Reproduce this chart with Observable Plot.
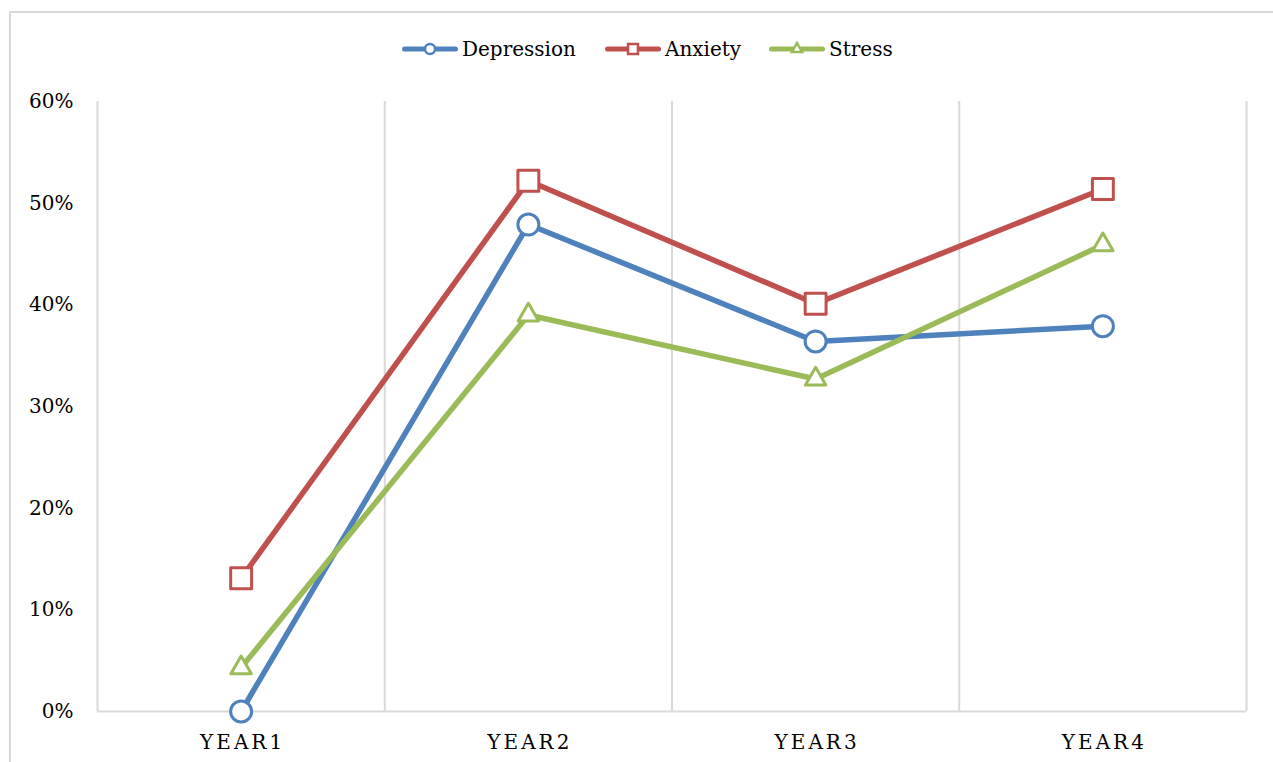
<!DOCTYPE html>
<html>
<head>
<meta charset="utf-8">
<script src="https://cdn.jsdelivr.net/npm/d3@7"></script>
<script src="https://cdn.jsdelivr.net/npm/@observablehq/plot@0.6"></script>
<style>
  body { margin: 0; background: #fff; width: 1273px; height: 762px; overflow: hidden; position: relative; font-family: "DejaVu Serif", serif; }
  #frame { position: absolute; left: 9px; top: 11px; width: 1400px; height: 900px; border-left: 2px solid #d9d9d9; border-top: 2px solid #d9d9d9; z-index: 2; pointer-events: none; }
  #chart { position: absolute; left: 0; top: 0; z-index: 1; }
  #chart [aria-label="x-axis tick label"] { letter-spacing: 3px; }
  .legend-item { position: absolute; top: 37px; height: 24px; display: flex; align-items: center; font-size: 20px; color: #000; z-index: 3; white-space: nowrap; }
  .legend-item svg { display: block; margin-right: 4px; }
</style>
</head>
<body>
<div id="frame"></div>
<div id="chart"></div>
<script>
// ---- data ----
const years = ["YEAR1", "YEAR2", "YEAR3", "YEAR4"];
const depression = [0, 47.9, 36.4, 37.9];
const anxiety = [13.1, 52.2, 40.1, 51.4];
const stress = [4.3, 39.0, 32.7, 45.9];
const seriesNames = ["Depression", "Anxiety", "Stress"];
const seriesColors = ["#4f81bd", "#c0504d", "#9bbb59"];
const seriesSymbols = ["circle", "square", "triangle"];
const yTicks = [0, 10, 20, 30, 40, 50, 60];

const seriesValues = [depression, anxiety, stress];
const rows = seriesValues.map((vals, s) => years.map((y, i) => ({ i, year: y, series: seriesNames[s], v: vals[i] })));
const boundaries = d3.range(years.length + 1).map(k => k - 0.5);
const markerR = { circle: 10.5, square: 11.8, triangle: 7.6 };

const marks = [
  Plot.ruleX(boundaries, { y1: 0, y2: 60, stroke: "#d9d9d9", strokeWidth: 2 }),
  Plot.ruleY([0], { stroke: "#d9d9d9", strokeWidth: 2 }),
];
rows.forEach((data, s) => {
  marks.push(Plot.line(data, { x: "i", y: "v", stroke: seriesColors[s], strokeWidth: 5.5, strokeLinejoin: "round" }));
  marks.push(Plot.dot(data, { x: "i", y: "v", symbol: () => seriesSymbols[s], r: markerR[seriesSymbols[s]], stroke: seriesColors[s], fill: "white", strokeWidth: 3, strokeLinejoin: "round" }));
});
marks.push(Plot.axisX({ ticks: d3.range(years.length), tickFormat: i => years[i], tickSize: 0, tickPadding: 23, dx: 1.5, label: null }));
marks.push(Plot.axisY({ ticks: yTicks, tickFormat: d => d + "%", tickSize: 0, tickPadding: 24, label: null }));

const chart = Plot.plot({
  width: 1273,
  height: 762,
  marginLeft: 97,
  marginRight: 27,
  marginTop: 101,
  marginBottom: 51,
  x: { type: "linear", domain: [-0.5, years.length - 0.5], label: null },
  y: { domain: [0, 60], label: null },
  style: { fontFamily: "DejaVu Serif", fontSize: "20px", color: "#000", background: "transparent", overflow: "visible" },
  marks
});
document.getElementById("chart").appendChild(chart);

// ---- legend ----
const legendLeft = [402, 605, 769];
const legendMarker = { circle: 5, square: 5.6, triangle: 3.8 };
seriesNames.forEach((name, s) => {
  const item = d3.select("body").append("div").attr("class", "legend-item").style("left", legendLeft[s] + "px");
  const svg = item.append("svg").attr("width", 56).attr("height", 24);
  svg.append("line").attr("x1", 2.5).attr("x2", 53.5).attr("y1", 12).attr("y2", 12)
    .attr("stroke", seriesColors[s]).attr("stroke-width", 5).attr("stroke-linecap", "round");
  const sym = { circle: d3.symbolCircle, square: d3.symbolSquare, triangle: d3.symbolTriangle }[seriesSymbols[s]];
  const r = legendMarker[seriesSymbols[s]];
  svg.append("path").attr("transform", "translate(28,12)")
    .attr("d", d3.symbol(sym, Math.PI * r * r)())
    .attr("fill", "white").attr("stroke", seriesColors[s]).attr("stroke-width", 2.5);
  item.append("span").text(name);
});
</script>
</body>
</html>
